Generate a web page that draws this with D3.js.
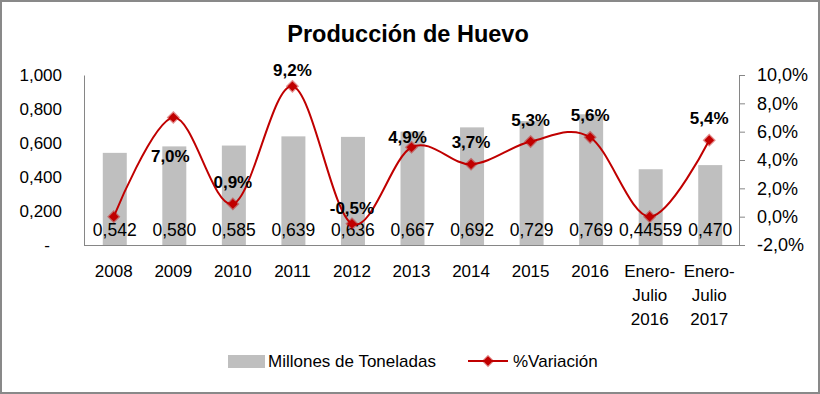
<!DOCTYPE html>
<html>
<head>
<meta charset="utf-8">
<script src="https://cdn.jsdelivr.net/npm/d3@7"></script>
<style>
  body { margin: 0; background: #fff; }
  svg { display: block; font-family: "Liberation Sans", Arial, sans-serif; }
  .tick-lbl { font-size: 17px; fill: #000; }
</style>
</head>
<body>
<svg id="chart" width="820" height="394"></svg>
<script>
// chart data
const categories = ["2008", "2009", "2010", "2011", "2012", "2013", "2014", "2015", "2016", "Enero-|Julio|2016", "Enero-|Julio|2017"];
const tonnes = [0.542, 0.580, 0.585, 0.639, 0.636, 0.667, 0.692, 0.729, 0.769, 0.44559, 0.470];
const variation = [0.0, 7.0, 0.9, 9.2, -0.5, 4.9, 3.7, 5.3, 5.6, 0.0, 5.4];
const leftTicks = [0, 0.2, 0.4, 0.6, 0.8, 1.0];
const rightTicks = [-2, 0, 2, 4, 6, 8, 10];

// manual label nudges (dx, dy from default spot above the marker)
const pctShift = { "2009": [-3, 60], "2011": [0, 6], "2012": [0, 6], "2013": [-4, 12] };

// spanish style numbers: comma decimal, plain hyphen minus
const loc = d3.formatLocale({ decimal: ",", thousands: ".", grouping: [3], currency: ["", ""], minus: "-" });
const fPct = (d) => loc.format(".1f")(d) + "%";

const svg = d3.select("#chart");
const pl = { left: 84, right: 739, top: 75, bottom: 245 };

// outer frame
svg.append("rect").attr("x", 1).attr("y", 1).attr("width", 818).attr("height", 392)
  .attr("fill", "#fff").attr("stroke", "#898989").attr("stroke-width", 2);

// title
svg.append("text").attr("x", 408).attr("y", 42).attr("text-anchor", "middle")
  .style("font-size", "23.5px").style("font-weight", "bold").text("Producción de Huevo");

// scales
const x = d3.scaleBand().domain(categories).range([pl.left, pl.right]);
const yL = d3.scaleLinear().domain([0, 1]).range([pl.bottom, pl.top]);
const yR = d3.scaleLinear().domain([-2, 10]).range([pl.bottom, pl.top]);
const cx = (c) => x(c) + x.bandwidth() / 2;

// bars
const barW = 24;
svg.append("g").selectAll("rect").data(tonnes).join("rect")
  .attr("x", (d, i) => cx(categories[i]) - barW / 2 + 1)
  .attr("y", (d) => yL(d))
  .attr("width", barW)
  .attr("height", (d) => yL(0) - yL(d))
  .attr("fill", "#bfbfbf");

// axes
const axisCol = "#868686";
const gL = svg.append("g").attr("transform", `translate(${pl.left},0)`)
  .call(d3.axisLeft(yL).tickValues(leftTicks).tickSize(0).tickPadding(22)
    .tickFormat((d) => d === 0 ? "-" : (d === 1 ? "1,000" : loc.format(".3f")(d))));
gL.selectAll(".tick text").attr("class", "tick-lbl").style("font-size", "17px").attr("font-family", null);
gL.select(".tick text").attr("dx", -12);
gL.select(".domain").attr("stroke", axisCol);

const gR = svg.append("g").attr("transform", `translate(${pl.right},0)`)
  .call(d3.axisRight(yR).tickValues(rightTicks).tickSize(6).tickPadding(12).tickFormat(fPct));
gR.selectAll(".tick text").attr("class", "tick-lbl").style("font-size", "18px").attr("font-family", null);
gR.selectAll(".tick line").attr("stroke", axisCol);
gR.select(".domain").attr("stroke", axisCol);

svg.append("line").attr("x1", pl.left).attr("x2", pl.right)
  .attr("y1", pl.bottom + 0.5).attr("y2", pl.bottom + 0.5).attr("stroke", axisCol);

// category labels (multi-line)
const xl = svg.append("g").selectAll("text").data(categories).join("text")
  .attr("class", "tick-lbl").attr("text-anchor", "middle")
  .attr("x", (d) => cx(d)).attr("y", 277);
xl.selectAll("tspan").data((d) => d.split("|")).join("tspan")
  .attr("x", function () { return this.parentNode.getAttribute("x"); })
  .attr("dy", (d, i) => i === 0 ? 0 : 24)
  .text((d) => d);

// bar value labels (inside base)
const fmtTon = (v) => {
  const dec = (String(v).split(".")[1] || "").length;
  return v.toFixed(Math.max(3, dec)).replace(".", ",");
};
svg.append("g").selectAll("text").data(tonnes).join("text")
  .attr("class", "tick-lbl").attr("text-anchor", "middle").style("font-size", "17.5px")
  .attr("x", (d, i) => cx(categories[i]) + 1).attr("y", 236)
  .text((d) => fmtTon(d));

// variation line
const red = "#c00000";
const pts = variation.map((v, i) => [cx(categories[i]), yR(v)]);
svg.append("path").datum(pts)
  .attr("d", d3.line().curve(d3.curveCardinal.tension(0)))
  .attr("fill", "none").attr("stroke", red).attr("stroke-width", 2);

const diamond = d3.symbol().type(d3.symbolDiamond2).size(60);
svg.append("g").selectAll("path").data(pts).join("path")
  .attr("transform", (d) => `translate(${d[0]},${d[1]})`)
  .attr("d", diamond)
  .attr("fill", red).attr("stroke", "rgba(192,0,0,0.45)").attr("stroke-width", 2.5);

// variation labels (zero values carry no label)
const pctLbl = variation.map((v, i) => ({ v, c: categories[i] })).filter((d) => d.v !== 0);
svg.append("g").selectAll("text").data(pctLbl).join("text")
  .attr("text-anchor", "middle")
  .style("font-size", "17px").style("font-weight", "bold")
  .attr("x", (d) => cx(d.c) + (pctShift[d.c] ? pctShift[d.c][0] : 0))
  .attr("y", (d) => yR(d.v) - 16 + (pctShift[d.c] ? pctShift[d.c][1] : 0))
  .text((d) => fPct(d.v));

// legend
const lg = svg.append("g");
lg.append("rect").attr("x", 228).attr("y", 355).attr("width", 37).attr("height", 13).attr("fill", "#bfbfbf");
lg.append("text").attr("class", "tick-lbl").attr("x", 268).attr("y", 367).text("Millones de Toneladas");
lg.append("line").attr("x1", 468).attr("x2", 508).attr("y1", 361).attr("y2", 361)
  .attr("stroke", red).attr("stroke-width", 2);
lg.append("path").attr("transform", "translate(488,361)").attr("d", diamond)
  .attr("fill", red).attr("stroke", "rgba(192,0,0,0.45)").attr("stroke-width", 2);
lg.append("text").attr("class", "tick-lbl").attr("x", 513).attr("y", 367).text("%Variación");
</script>
</body>
</html>
